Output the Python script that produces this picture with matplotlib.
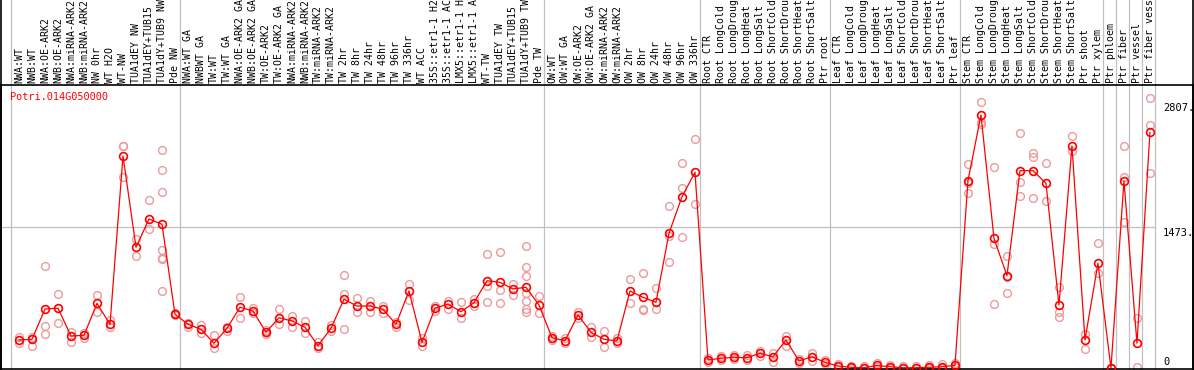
import numpy as np
import matplotlib
matplotlib.use("Agg")
import matplotlib.pyplot as plt

gene = "Potri.014G050000"

labels = [
    "NWA:WT", "NWB:WT", "NWA:OE-ARK2", "NWB:OE-ARK2", "NWA:miRNA-ARK2",
    "NWB:miRNA-ARK2", "NW 0hr", "WT H2O", "WT-NW", "TUA1dEY NW",
    "TUA1dEY+TUB15", "TUA1dY+TUB9 NW", "Pde NW",
    "NWA:WT GA", "NWBWT GA", "TW:WT", "TW:WT GA", "NWA:OE-ARK2 GA",
    "NWB:OE-ARK2 GA", "TW:OE-ARK2", "TW:OE-ARK2 GA", "NWA:miRNA-ARK2",
    "NWB:miRNA-ARK2", "TW:miRNA-ARK2", "TW:miRNA-ARK2", "TW 2hr", "TW 8hr",
    "TW 24hr", "TW 48hr", "TW 96hr", "TW 336hr", "WT ACC",
    "35S::etr1-1 H2O", "35S::etr1-1 ACC", "LMX5::etr1-1 H2O",
    "LMX5::etr1-1 ACC", "WT-TW", "TUA1dEY TW", "TUA1dEY+TUB15",
    "TUA1dY+TUB9 TW", "Pde TW",
    "OW:WT", "OW:WT GA", "OW:OE-ARK2", "OW:OE-ARK2 GA", "OW:miRNA-ARK2",
    "OW:miRNA-ARK2", "OW 2hr", "OW 8hr", "OW 24hr", "OW 48hr", "OW 96hr",
    "OW 336hr",
    "Root CTR", "Root LongCold", "Root LongDrought", "Root LongHeat",
    "Root LongSalt", "Root ShortCold", "Root ShortDrought", "Root ShortHeat",
    "Root ShortSalt", "Ptr root",
    "Leaf CTR", "Leaf LongCold", "Leaf LongDrought", "Leaf LongHeat",
    "Leaf LongSalt", "Leaf ShortCold", "Leaf ShortDrought", "Leaf ShortHeat",
    "Leaf ShortSalt", "Ptr leaf",
    "Stem CTR", "Stem LongCold", "Stem LongDrought", "Stem LongHeat",
    "Stem LongSalt", "Stem ShortCold", "Stem ShortDrought", "Stem ShortHeat",
    "Stem ShortSalt", "Ptr shoot", "Ptr xylem",
    "Ptr phloem", "Ptr fiber", "Ptr vessel", "Ptr fiber vessel",
]

# first index of each experiment block
group_starts = [0, 13, 41, 53, 63, 73, 84, 85, 86, 87, 88]

means = [
    311, 319, 655, 663, 355, 363, 718, 485, 2353, 1340, 1654, 1595, 596,
    485, 430, 274, 441, 674, 633, 396, 558, 522, 452, 248, 441, 763, 688,
    688, 652, 485, 855, 285, 663, 710, 625, 725, 969, 951, 877, 896, 699,
    336, 303, 588, 396, 319, 300, 855, 785, 729, 1495, 1901, 2172,
    89, 108, 119, 114, 163, 125, 311, 78, 125, 63,
    22, 8, 3, 28, 14, 3, 3, 8, 14, 30,
    2079, 2807, 1440, 1025, 2190, 2190, 2050, 699, 2464, 311, 1162,
    0, 2076, 274, 2616,
]

reps = [
    [344, 278], [347, 244], [1132, 466, 377], [821, 503], [400, 292],
    [389, 333], [810, 625], [533, 455], [2468, 2459, 2123], [1432, 1247],
    [1865, 1540], [2416, 2194, 1950, 1310, 1218, 1207, 855], [607, 588],
    [503, 458], [474, 392], [366, 219], [458, 414], [785, 552], [663, 614],
    [422, 377], [655, 485], [577, 452], [525, 392], [292, 219], [477, 414],
    [1032, 821, 433], [774, 625], [747, 618], [688, 614], [511, 455],
    [929, 755], [330, 244], [688, 633], [747, 655], [729, 552], [766, 688],
    [1265, 910, 729], [1284, 866, 718], [932, 810],
    [1354, 1118, 1021, 829, 747, 655, 625], [799, 607],
    [355, 311], [333, 278], [622, 555], [452, 347], [414, 230], [333, 278],
    [985, 718], [1051, 652, 644], [885, 652], [1802, 1469, 1180],
    [2272, 1995, 1451], [2539, 1817],
    [111, 67], [133, 89], [144, 100], [144, 89], [189, 133], [170, 70],
    [355, 244], [100, 56], [170, 78], [89, 44],
    [44, 11], [22, 0], [22, 0], [56, 11], [33, 0], [22, 0], [22, 0],
    [33, 0], [44, 0], [56, 11],
    [2264, 2057, 1939], [2949, 2727, 2705], [2234, 1373, 710],
    [1247, 1007, 836], [2605, 2061, 1913], [2383, 2345, 1884],
    [2279, 1857], [896, 625, 569], [2575, 2409], [374, 208], [1384, 1051],
    [0, 0], [2468, 2117, 1617], [552, 8], [2994, 2697, 2161],
]

ticks = [2807, 1473, 0]
tick_offsets = [7, 2, 6]  # pixels up, as drawn in the original

x = np.arange(len(labels))

fig = plt.figure(figsize=(11.94, 3.70), dpi=100)
ax = fig.add_axes([1 / 1194, 1 / 370, 1192 / 1194, 284 / 370])
ax.set_xlim(-1.385, 90.31)
ax.set_ylim(-11, 3141)
ax.set_xticks([])
ax.set_yticks([])
for s in ax.spines.values():
    s.set_linewidth(1.2)
    s.set_color("black")

right_edge = group_starts[-1] - 0.62

# block separators run up through the label area
for g in group_starts:
    ax.plot([g - 0.62, g - 0.62], [0, 1.31], color="#c0c0c0", lw=0.9,
            transform=ax.get_xaxis_transform(), clip_on=False, zorder=1)
ax.plot([-1.385, right_edge], [0.5, 0.5], color="#c0c0c0", lw=0.9,
        transform=ax.get_xaxis_transform(), zorder=1)

# replicates
for i, r in enumerate(reps):
    ax.plot([i] * len(r), r, linestyle="none", marker="o", ms=5.6,
            mfc="none", mec="#ee9a9a", mew=1.0, zorder=2, clip_on=False)

# means
ax.plot(x, means, color="#ff0000", lw=0.9, marker="o", ms=5.6,
        mfc="none", mec="#ff0000", mew=1.2, zorder=3, clip_on=False)

mono = "DejaVu Sans Mono"
for i, lab in enumerate(labels):
    ax.text(i, 1.008, lab, rotation=90, ha="center", va="bottom",
            fontsize=7.1, family=mono, transform=ax.get_xaxis_transform(),
            clip_on=False)

ax.text(-0.7, 0.958, gene, color="#ff0000", fontsize=7.4, family=mono,
        ha="left", va="center", transform=ax.get_xaxis_transform())

for t, off in zip(ticks, tick_offsets):
    ax.annotate("%d." % t if t else "0", xy=(88.0, t), xytext=(0, off),
                textcoords="offset pixels", ha="left", va="center",
                fontsize=7.5, family=mono)

# border around the label strip
fig.add_artist(plt.Line2D([0.5 / 1194, 0.5 / 1194], [0, 1], color="black", lw=1.2))
fig.add_artist(plt.Line2D([1192.5 / 1194, 1192.5 / 1194], [0, 1], color="black", lw=1.2))

fig.savefig("out.png", dpi=100)
